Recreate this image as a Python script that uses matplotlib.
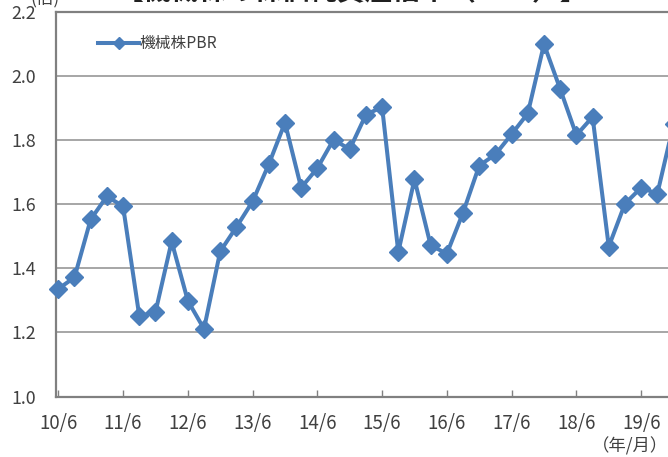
import matplotlib
matplotlib.use("Agg")
import matplotlib.pyplot as plt

plt.rcParams['font.family'] = ['Noto Sans CJK JP', 'DejaVu Sans']

# quarterly categories (year/month)
categories = ["10/6", "10/9", "10/12", "11/3", "11/6", "11/9", "11/12", "12/3",
              "12/6", "12/9", "12/12", "13/3", "13/6", "13/9", "13/12", "14/3",
              "14/6", "14/9", "14/12", "15/3", "15/6", "15/9", "15/12", "16/3",
              "16/6", "16/9", "16/12", "17/3", "17/6", "17/9", "17/12", "18/3",
              "18/6", "18/9", "18/12", "19/3", "19/6", "19/9", "19/12"]
pbr = [1.336, 1.372, 1.553, 1.625, 1.594, 1.252, 1.263, 1.484, 1.299, 1.211,
       1.453, 1.529, 1.609, 1.725, 1.855, 1.652, 1.713, 1.802, 1.772, 1.880,
       1.904, 1.451, 1.678, 1.472, 1.446, 1.574, 1.721, 1.756, 1.819, 1.884,
       2.100, 1.960, 1.816, 1.873, 1.468, 1.602, 1.652, 1.633, 1.850]
series_name = "機械株PBR"
y_ticks = [1.0, 1.2, 1.4, 1.6, 1.8, 2.0, 2.2]
x_tick_labels = ["10/6", "11/6", "12/6", "13/6", "14/6", "15/6", "16/6", "17/6", "18/6", "19/6"]

W, H = 668, 457
fig = plt.figure(figsize=(W / 100, H / 100), dpi=100)

px_left, px_right = 55.7, 720.0
px_top, px_bottom = 12.2, 396.5
ax = fig.add_axes([px_left / W, 1 - px_bottom / H, (px_right - px_left) / W, (px_bottom - px_top) / H])

step = 16.19
x0 = 58.3
xs = list(range(len(pbr)))
ax.plot(xs, pbr, color='#4a7ebb', lw=2.9, marker='D', markersize=8.8,
        markerfacecolor='#4a7ebb', markeredgecolor='#4a7ebb', label=series_name,
        clip_on=False, zorder=3)

ax.set_xlim((px_left - x0) / step, (px_right - x0) / step)
ax.set_ylim(1.0, 2.2)

ax.set_yticks(y_ticks)
ax.set_yticklabels([f"{v:.1f}" for v in y_ticks])
tick_pos = [categories.index(l) for l in x_tick_labels]
ax.set_xticks(tick_pos)
ax.set_xticklabels(x_tick_labels)

ax.tick_params(axis='y', length=0, pad=14, labelsize=12.8, labelcolor='#404040')
ax.tick_params(axis='x', direction='in', length=5, width=1, color='#808080',
               pad=12, labelsize=13.5, labelcolor='#404040')

ax.grid(axis='y', color='#a6a6a6', lw=1.4)
ax.set_axisbelow(True)
ax.spines['right'].set_visible(False)
for s in ['left', 'bottom', 'top']:
    ax.spines[s].set_color('#808080')
    ax.spines[s].set_linewidth(1.6)

leg = ax.legend(loc='upper left', bbox_to_anchor=(92 / W, 1 - 29 / H),
                bbox_transform=fig.transFigure, frameon=False, fontsize=11.3,
                handlelength=2.6, handletextpad=0.05, borderaxespad=0)
for t in leg.get_texts():
    t.set_color('#404040')
leg.legend_handles[0].set_markersize(6)

fig.text(630 / W, 1 - 446 / H, "（年/月）", ha='center', va='center', fontsize=12.5, color='#404040')
fig.text(45 / W, 1 - (-2) / H, "(倍)", ha='center', va='center', fontsize=12.5, color='#404040')
fig.text(352 / W, 1 - (-8) / H, "【機械株の株価純資産倍率（PBR）】", ha='center', va='center',
         fontsize=20, fontweight='bold', color='#202020')

fig.savefig("out.png", dpi=100)
